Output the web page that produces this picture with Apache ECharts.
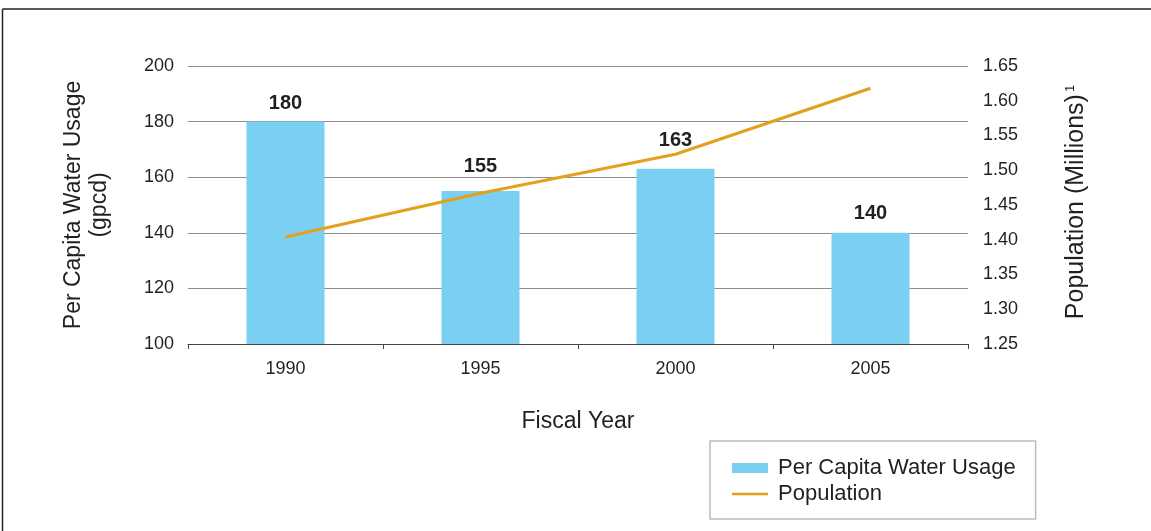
<!DOCTYPE html>
<html>
<head>
<meta charset="utf-8">
<script src="https://cdn.jsdelivr.net/npm/echarts@6/dist/echarts.min.js"></script>
<style>
  html, body { margin: 0; padding: 0; background: #fff; }
  #chart { width: 1151px; height: 531px; }
</style>
</head>
<body>
<div id="chart"></div>
<script>
// Fiscal years on the category axis
const years = ['1990', '1995', '2000', '2005'];
// Per capita water usage, gallons per capita per day
const waterUsage = [180, 155, 163, 140];
// Population in millions
const population = [1.404, 1.467, 1.523, 1.618];
// Right axis tick labels
const popTicks = ['1.25', '1.30', '1.35', '1.40', '1.45', '1.50', '1.55', '1.60', '1.65'];

// Value labels are lifted a little where the population line passes over them
const labelLift = [8, 15, 18, 9];

const FONT = 'Liberation Sans, Arial, sans-serif';
const TEXT = '#231f20';
const ORANGE = '#e3a01b';

const barData = waterUsage.map((v, i) => ({ value: v, label: { distance: labelLift[i] } }));

const chart = echarts.init(document.getElementById('chart'), null, { renderer: 'canvas' });

chart.setOption({
  animation: false,
  backgroundColor: '#fff',
  textStyle: { fontFamily: FONT, color: TEXT },
  grid: { left: 188, right: 183, top: 66, bottom: 187, containLabel: false },
  graphic: [
    // page frame: top and left rules
    { type: 'line', shape: { x1: 2.5, y1: 9, x2: 1151, y2: 9 }, style: { stroke: '#222', lineWidth: 1.5 } },
    { type: 'line', shape: { x1: 2.5, y1: 9, x2: 2.5, y2: 531 }, style: { stroke: '#222', lineWidth: 1.5 } }
  ],
  legend: {
    orient: 'vertical',
    left: 710,
    top: 441,
    padding: [16, 20, 14, 22],
    itemGap: 4,
    itemWidth: 36,
    itemHeight: 10,
    borderColor: '#bdbdbd',
    borderWidth: 1.5,
    textStyle: { fontFamily: FONT, fontSize: 22, color: TEXT, lineHeight: 22, padding: [0, 0, 0, 5] },
    data: [
      { name: 'Per Capita Water Usage', icon: 'rect' },
      // thin line key: the bare moveTo points keep the full 36x10 box
      { name: 'Population', icon: 'path://M0,0 M36,10 M0,3.8 L36,3.8 L36,6.2 L0,6.2 Z' }
    ]
  },
  xAxis: {
    type: 'category',
    data: years,
    name: 'Fiscal Year',
    nameLocation: 'middle',
    nameGap: 66,
    nameTextStyle: { fontFamily: FONT, fontSize: 23, color: TEXT },
    axisLine: { lineStyle: { color: '#444', width: 1 } },
    axisTick: { show: true, length: 5, lineStyle: { color: '#444' } },
    axisLabel: { fontFamily: FONT, fontSize: 18, color: TEXT, margin: 16 }
  },
  yAxis: [
    {
      type: 'value',
      min: 100,
      max: 200,
      interval: 20,
      name: 'Per Capita Water Usage\n(gpcd)',
      nameLocation: 'middle',
      nameRotate: 90,
      nameGap: 75,
      nameTextStyle: { fontFamily: FONT, fontSize: 23, color: TEXT, lineHeight: 26, align: 'center' },
      axisLine: { show: false },
      axisTick: { show: false },
      axisLabel: { fontFamily: FONT, fontSize: 18, color: TEXT, margin: 14 },
      splitLine: { show: true, lineStyle: { color: '#8c8c8c', width: 1 } }
    },
    {
      type: 'value',
      min: 1.25,
      max: 1.65,
      interval: 0.05,
      position: 'right',
      name: 'Population (Millions){sup|1}',
      nameLocation: 'middle',
      nameRotate: 90,
      nameGap: 96,
      nameTextStyle: {
        fontFamily: FONT, fontSize: 25, color: TEXT, padding: [0, 0, 0, 6],
        rich: { sup: { fontFamily: FONT, fontSize: 13, color: TEXT, verticalAlign: 'top', padding: [0, 0, 10, 2] } }
      },
      axisLine: { show: false },
      axisTick: { show: false },
      splitLine: { show: false },
      axisLabel: {
        fontFamily: FONT, fontSize: 18, color: TEXT, margin: 15,
        formatter: function (v) {
          const i = Math.round((v - 1.25) / 0.05);
          return popTicks[i] !== undefined ? popTicks[i] : v.toFixed(2);
        }
      }
    }
  ],
  series: [
    {
      name: 'Per Capita Water Usage',
      type: 'bar',
      data: barData,
      barWidth: '40%',
      itemStyle: { color: '#7bcff3' },
      label: {
        show: true,
        position: 'top',
        fontFamily: FONT,
        fontWeight: 'bold',
        fontSize: 20,
        color: TEXT
      },
      z: 2
    },
    {
      name: 'Population',
      type: 'line',
      yAxisIndex: 1,
      data: population,
      symbol: 'none',
      lineStyle: { color: ORANGE, width: 3 },
      itemStyle: { color: ORANGE },
      z: 3
    }
  ]
});
</script>
</body>
</html>
